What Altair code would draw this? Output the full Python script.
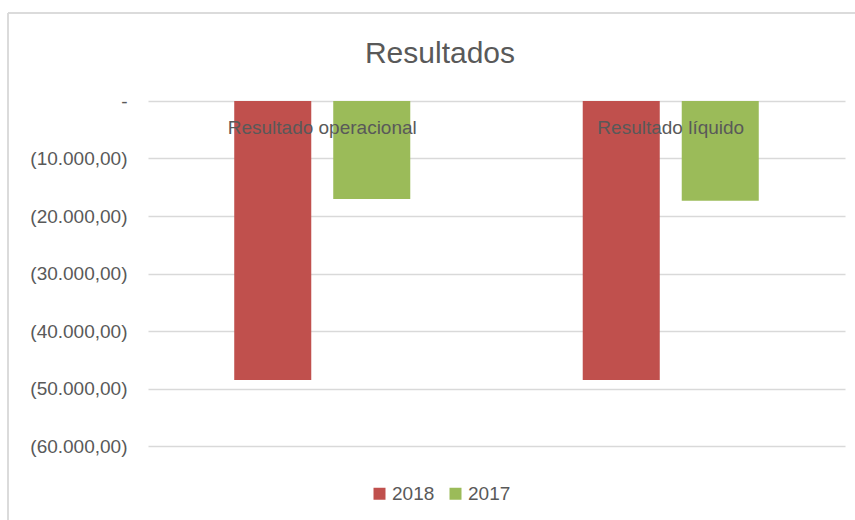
import altair as alt
import pandas as pd

categories = ["Resultado operacional", "Resultado líquido"]
series = ["2018", "2017"]
values_2018 = [-48500, -48500]
values_2017 = [-17050, -17350]
y_ticks = [0, -10000, -20000, -30000, -40000, -50000, -60000]
title_text = ["Resultados"]

rows = []
for i, c in enumerate(categories):
    rows.append({"categoria": c, "ano": "2018", "valor": values_2018[i]})
    rows.append({"categoria": c, "ano": "2017", "valor": values_2017[i]})
df = pd.DataFrame(rows)
lab = pd.DataFrame({"categoria": categories})
tit = pd.DataFrame({"t": title_text})

FONT = "Liberation Sans"
GREY = "#595959"

x_enc = alt.X("categoria:N", sort=categories, axis=None,
              scale=alt.Scale(paddingInner=0, paddingOuter=0))

bars = alt.Chart(df).mark_bar().encode(
    x=x_enc,
    xOffset=alt.XOffset("ano:N", sort=series,
                        scale=alt.Scale(paddingInner=0.222, paddingOuter=0.871)),
    y=alt.Y("valor:Q",
            scale=alt.Scale(domain=[-60000, 0], nice=False),
            axis=alt.Axis(values=y_ticks, title=None, domain=False, ticks=False,
                          grid=True, gridColor="#D9D9D9", gridWidth=1.3,
                          labelPadding=21, labelFont=FONT, labelFontSize=19,
                          labelColor=GREY,
                          labelExpr="datum.value == 0 ? '-\u00a0\u00a0\u00a0\u00a0' : '(' + format(abs(datum.value)/1000, 'd') + '.000,00)'")),
    color=alt.Color("ano:N",
                    scale=alt.Scale(domain=series, range=["#C0504D", "#9BBB59"]),
                    legend=alt.Legend(title=None, orient="none", direction="horizontal",
                                      legendX=222, legendY=383,
                                      symbolType="square", symbolSize=144,
                                      symbolStrokeWidth=0,
                                      labelFont=FONT, labelFontSize=19, labelColor=GREY,
                                      columnPadding=11, labelOffset=3)),
)

texts = alt.Chart(lab).mark_text(font=FONT, fontSize=19, color=GREY,
                                  baseline="middle").encode(
    x=alt.X("categoria:N", sort=categories,
            scale=alt.Scale(paddingInner=0, paddingOuter=0)),
    y=alt.value(27),
    text="categoria:N",
)

title = alt.Chart(tit).mark_text(font=FONT, fontSize=30, color=GREY,
                                 baseline="alphabetic", align="center").encode(
    x=alt.value(292), y=alt.value(-38), text="t:N")

frame_left = alt.Chart(lab).mark_rule(color="#D9D9D9", strokeWidth=1.5).encode(
    x=alt.value(-140), y=alt.value(-88), y2=alt.value(430))
frame_top = alt.Chart(lab).mark_rule(color="#D9D9D9", strokeWidth=1.5).encode(
    x=alt.value(-140), x2=alt.value(720), y=alt.value(-88))

chart = alt.layer(frame_left, frame_top, bars, texts, title).properties(
    width=697, height=345,
    autosize=alt.AutoSizeParams(type="none"),
    padding={"left": 148, "top": 101, "right": 10, "bottom": 74},
).configure_view(stroke=None)

chart.save("out.html", embed_options={"renderer": "svg", "actions": False})
